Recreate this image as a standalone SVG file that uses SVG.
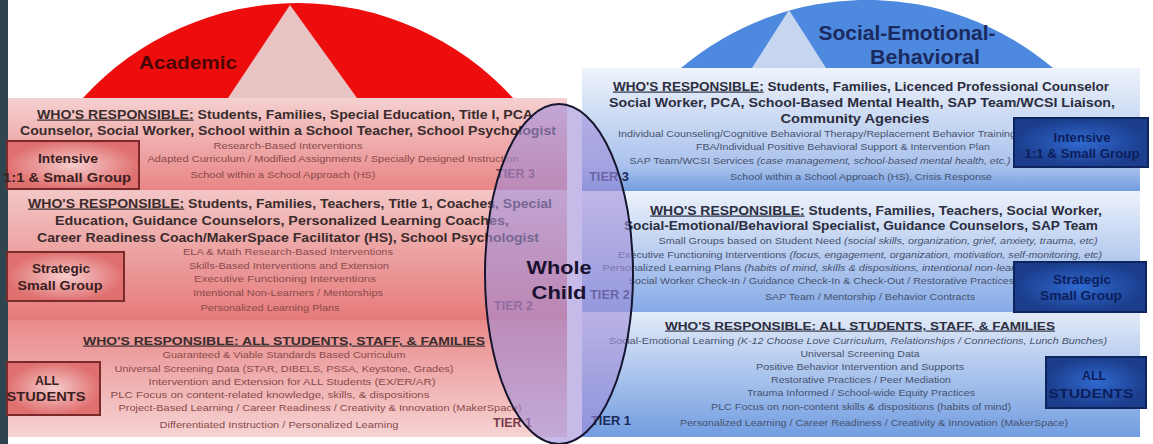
<svg xmlns="http://www.w3.org/2000/svg" width="1153" height="444" viewBox="0 0 1153 444">
<style>
text{font-family:"Liberation Sans",Arial,sans-serif;}
.hl{font-size:12px;font-weight:bold;fill:#3a2c2c;text-anchor:middle;}
.sl{font-size:9.5px;fill:#8a4a4a;text-anchor:middle;}
.hr{font-size:12px;font-weight:bold;fill:#2c2e40;text-anchor:middle;}
.sr{font-size:9.5px;fill:#46526e;text-anchor:middle;}
.cap{font-size:11.5px;}
.u{text-decoration:underline;}
.i{font-style:italic;}
.tl{font-size:12px;font-weight:bold;fill:#7a3c4c;}
.tr{font-size:12px;font-weight:bold;fill:#1a2a5a;}
.bl{font-size:13px;font-weight:bold;fill:#3a2020;text-anchor:middle;}
.br{font-size:12.5px;font-weight:bold;fill:#0c1e5c;text-anchor:middle;}
.boxl{fill:url(#boxL);stroke:#7a2a2a;stroke-width:2;}
.boxr{fill:url(#boxR);stroke:#0d245e;stroke-width:2;}
.big{font-weight:bold;text-anchor:middle;}
</style>
<defs>
<linearGradient id="lt3" x1="0" y1="0" x2="0" y2="1"><stop offset="0" stop-color="#f5d0d0"/><stop offset="1" stop-color="#e98585"/></linearGradient>
<linearGradient id="lt2" x1="0" y1="0" x2="0" y2="1"><stop offset="0" stop-color="#f3c6c6"/><stop offset="1" stop-color="#e67a7a"/></linearGradient>
<linearGradient id="lt1" x1="0" y1="0" x2="0" y2="1"><stop offset="0" stop-color="#e98a8a"/><stop offset="1" stop-color="#f6d3d3"/></linearGradient>
<linearGradient id="rt3" x1="0" y1="0" x2="0" y2="1"><stop offset="0" stop-color="#eef3fb"/><stop offset="0.8" stop-color="#a9c2ec"/><stop offset="1" stop-color="#739de0"/></linearGradient>
<linearGradient id="rt2" x1="0" y1="0" x2="0" y2="1"><stop offset="0" stop-color="#edf2fb"/><stop offset="1" stop-color="#86aae6"/></linearGradient>
<linearGradient id="rt1" x1="0" y1="0" x2="0" y2="1"><stop offset="0" stop-color="#e3ebf8"/><stop offset="1" stop-color="#729de1"/></linearGradient>
<radialGradient id="boxL"><stop offset="0" stop-color="#f6cccc"/><stop offset="1" stop-color="#e07070"/></radialGradient>
<radialGradient id="boxR"><stop offset="0" stop-color="#3069d0"/><stop offset="1" stop-color="#1b3d8c"/></radialGradient>
</defs>
<rect width="1153" height="444" fill="#ffffff"/>
<rect x="0" y="0" width="8" height="444" fill="#2e4550"/>

<g id="academic-dome">
<path d="M83 98 A291 291 0 0 1 513 98 Z" fill="#ee0d0d"/>
<path d="M290 5 L357 98 L228 98 Z" fill="#e9c4c4"/>
<text class="big" x="188" y="69" font-size="19" fill="#4a0505" textLength="98" lengthAdjust="spacingAndGlyphs">Academic</text>
</g>

<g id="seb-dome">
<path d="M681 68 A288 288 0 0 1 1053 68 Z" fill="#4d89de"/>
<path d="M789 10 L826 68 L752 68 Z" fill="#c7d6f0"/>
<text class="big" x="907" y="40" font-size="20" fill="#1b2a5e" textLength="177" lengthAdjust="spacingAndGlyphs">Social-Emotional-</text>
<text class="big" x="925" y="64" font-size="20" fill="#1b2a5e" textLength="110" lengthAdjust="spacingAndGlyphs">Behavioral</text>
</g>

<g id="academic-tier3">
<rect x="8" y="98" width="559" height="92" fill="url(#lt3)"/>
<text class="hl" x="285" y="118.5" textLength="496" lengthAdjust="spacingAndGlyphs"><tspan class="u">WHO'S RESPONSIBLE:</tspan> Students, Families, Special Education, Title I, PCA</text>
<text class="hl" x="288" y="135" textLength="536" lengthAdjust="spacingAndGlyphs">Counselor, Social Worker, School within a School Teacher, School Psychologist</text>
<text class="sl" x="288" y="148.5" textLength="149" lengthAdjust="spacingAndGlyphs">Research-Based Interventions</text>
<text class="sl" x="333" y="162" textLength="371" lengthAdjust="spacingAndGlyphs">Adapted Curriculum / Modified Assignments / Specially Designed Instruction</text>
<text class="sl" x="283" y="177.5" textLength="185" lengthAdjust="spacingAndGlyphs">School within a School Approach (HS)</text>
<text class="tl" x="496" y="177.5" textLength="39" lengthAdjust="spacingAndGlyphs">TIER 3</text>
</g>

<g id="academic-tier2">
<rect x="8" y="190" width="559" height="130" fill="url(#lt2)"/>
<text class="hl" x="290" y="207.5" textLength="524" lengthAdjust="spacingAndGlyphs"><tspan class="u">WHO'S RESPONSIBLE:</tspan> Students, Families, Teachers, Title 1, Coaches, Special</text>
<text class="hl" x="282" y="224.5" textLength="454" lengthAdjust="spacingAndGlyphs">Education, Guidance Counselors, Personalized Learning Coaches,</text>
<text class="hl" x="288" y="241.5" textLength="502" lengthAdjust="spacingAndGlyphs">Career Readiness Coach/MakerSpace Facilitator (HS), School Psychologist</text>
<text class="sl" x="288" y="255" textLength="210" lengthAdjust="spacingAndGlyphs">ELA &amp; Math Research-Based Interventions</text>
<text class="sl" x="289" y="269" textLength="200" lengthAdjust="spacingAndGlyphs">Skills-Based Interventions and Extension</text>
<text class="sl" x="285" y="282" textLength="182" lengthAdjust="spacingAndGlyphs">Executive Functioning Interventions</text>
<text class="sl" x="288" y="296" textLength="190" lengthAdjust="spacingAndGlyphs">Intentional Non-Learners / Mentorships</text>
<text class="sl" x="270" y="311" textLength="139" lengthAdjust="spacingAndGlyphs">Personalized Learning Plans</text>
<text class="tl" x="494" y="310" textLength="39" lengthAdjust="spacingAndGlyphs">TIER 2</text>
</g>

<g id="academic-tier1">
<rect x="8" y="320" width="559" height="117" fill="url(#lt1)"/>
<text class="hl cap u" x="284" y="344.5" textLength="402" lengthAdjust="spacingAndGlyphs">WHO'S RESPONSIBLE: ALL STUDENTS, STAFF, &amp; FAMILIES</text>
<text class="sl" x="284" y="357.5" textLength="243" lengthAdjust="spacingAndGlyphs">Guaranteed &amp; Viable Standards Based Curriculum</text>
<text class="sl" x="284" y="371.5" textLength="339" lengthAdjust="spacingAndGlyphs">Universal Screening Data (STAR, DIBELS, PSSA, Keystone, Grades)</text>
<text class="sl" x="292" y="384.5" textLength="287" lengthAdjust="spacingAndGlyphs">Intervention and Extension for ALL Students (EX/ER/AR)</text>
<text class="sl" x="270" y="398" textLength="319" lengthAdjust="spacingAndGlyphs">PLC Focus on content-related knowledge, skills, &amp; dispositions</text>
<text class="sl" x="320" y="411" textLength="403" lengthAdjust="spacingAndGlyphs">Project-Based Learning / Career Readiness / Creativity &amp; Innovation (MakerSpace)</text>
<text class="sl" x="279" y="427.5" textLength="239" lengthAdjust="spacingAndGlyphs">Differentiated Instruction / Personalized Learning</text>
<text class="tl" x="493" y="427" textLength="39" lengthAdjust="spacingAndGlyphs">TIER 1</text>
</g>

<g id="seb-tier3">
<rect x="582" y="68" width="558" height="123" fill="url(#rt3)"/>
<text class="hr" x="861" y="90.5" textLength="496" lengthAdjust="spacingAndGlyphs"><tspan class="u">WHO'S RESPONSIBLE:</tspan> Students, Families, Licenced Professional Counselor</text>
<text class="hr" x="862" y="106.5" textLength="506" lengthAdjust="spacingAndGlyphs">Social Worker, PCA, School-Based Mental Health, SAP Team/WCSI Liaison,</text>
<text class="hr" x="855" y="122.5" textLength="149" lengthAdjust="spacingAndGlyphs">Community Agencies</text>
<text class="sr" x="817" y="136.5" textLength="398" lengthAdjust="spacingAndGlyphs">Individual Counseling/Cognitive Behavioral Therapy/Replacement Behavior Training</text>
<text class="sr" x="843" y="149.5" textLength="294" lengthAdjust="spacingAndGlyphs">FBA/Individual Positive Behavioral Support &amp; Intervention Plan</text>
<text class="sr" x="820" y="163.5" textLength="381" lengthAdjust="spacingAndGlyphs">SAP Team/WCSI Services <tspan class="i">(case management, school-based mental health, etc.)</tspan></text>
<text class="sr" x="861" y="179.5" textLength="262" lengthAdjust="spacingAndGlyphs">School within a School Approach (HS), Crisis Response</text>
<text class="tr" x="589" y="181" textLength="40" lengthAdjust="spacingAndGlyphs">TIER 3</text>
</g>

<g id="seb-tier2">
<rect x="582" y="191" width="558" height="121" fill="url(#rt2)"/>
<text class="hr" x="876" y="214.5" textLength="452" lengthAdjust="spacingAndGlyphs"><tspan class="u">WHO'S RESPONSIBLE:</tspan> Students, Families, Teachers, Social Worker,</text>
<text class="hr" x="861" y="230" textLength="474" lengthAdjust="spacingAndGlyphs">Social-Emotional/Behavioral Specialist, Guidance Counselors, SAP Team</text>
<text class="sr" x="878" y="244" textLength="439" lengthAdjust="spacingAndGlyphs">Small Groups based on Student Need <tspan class="i">(social skills, organization, grief, anxiety, trauma, etc)</tspan></text>
<text class="sr" x="860" y="257.5" textLength="484" lengthAdjust="spacingAndGlyphs">Executive Functioning Interventions <tspan class="i">(focus, engagement, organization, motivation, self-monitoring, etc)</tspan></text>
<text class="sr" x="821" y="271" textLength="437" lengthAdjust="spacingAndGlyphs">Personalized Learning Plans <tspan class="i">(habits of mind, skills &amp; dispositions, intentional non-learners)</tspan></text>
<text class="sr" x="821" y="284" textLength="386" lengthAdjust="spacingAndGlyphs">Social Worker Check-In / Guidance Check-In &amp; Check-Out / Restorative Practices</text>
<text class="sr" x="870" y="299.5" textLength="210" lengthAdjust="spacingAndGlyphs">SAP Team / Mentorship / Behavior Contracts</text>
<text class="tr" x="590" y="299" textLength="40" lengthAdjust="spacingAndGlyphs">TIER 2</text>
</g>

<g id="seb-tier1">
<rect x="582" y="312" width="558" height="125" fill="url(#rt1)"/>
<text class="hr cap u" x="860" y="329.5" textLength="390" lengthAdjust="spacingAndGlyphs">WHO'S RESPONSIBLE: ALL STUDENTS, STAFF, &amp; FAMILIES</text>
<text class="sr" x="858" y="344" textLength="498" lengthAdjust="spacingAndGlyphs">Social-Emotional Learning <tspan class="i">(K-12 Choose Love Curriculum, Relationships / Connections, Lunch Bunches)</tspan></text>
<text class="sr" x="860" y="356.5" textLength="119" lengthAdjust="spacingAndGlyphs">Universal Screening Data</text>
<text class="sr" x="860" y="370" textLength="208" lengthAdjust="spacingAndGlyphs">Positive Behavior Intervention and Supports</text>
<text class="sr" x="861" y="382.5" textLength="180" lengthAdjust="spacingAndGlyphs">Restorative Practices / Peer Mediation</text>
<text class="sr" x="861" y="396" textLength="228" lengthAdjust="spacingAndGlyphs">Trauma Informed / School-wide Equity Practices</text>
<text class="sr" x="861" y="410" textLength="300" lengthAdjust="spacingAndGlyphs">PLC Focus on non-content skills &amp; dispositions (habits of mind)</text>
<text class="sr" x="874" y="425.5" textLength="388" lengthAdjust="spacingAndGlyphs">Personalized Learning / Career Readiness / Creativity &amp; Innovation (MakerSpace)</text>
<text class="tr" x="591" y="425" textLength="40" lengthAdjust="spacingAndGlyphs">TIER 1</text>
</g>

<g id="box-intensive-academic">
<rect class="boxl" x="7" y="141" width="132" height="48"/>
<text class="bl" x="68" y="162.5" textLength="60" lengthAdjust="spacingAndGlyphs">Intensive</text>
<text class="bl" x="67" y="181.5" textLength="128" lengthAdjust="spacingAndGlyphs">1:1 &amp; Small Group</text>
</g>
<g id="box-strategic-academic">
<rect class="boxl" x="7" y="252" width="117" height="49"/>
<text class="bl" x="61" y="272.5" textLength="58" lengthAdjust="spacingAndGlyphs">Strategic</text>
<text class="bl" x="60" y="289.5" textLength="85" lengthAdjust="spacingAndGlyphs">Small Group</text>
</g>
<g id="box-all-academic">
<rect class="boxl" x="7" y="362" width="93" height="53"/>
<text class="bl" x="47" y="384.5" textLength="24" lengthAdjust="spacingAndGlyphs">ALL</text>
<text class="bl" x="46" y="400.5" textLength="79" lengthAdjust="spacingAndGlyphs">STUDENTS</text>
</g>

<g id="box-intensive-seb">
<rect class="boxr" x="1014" y="118" width="134" height="49"/>
<text class="br" x="1082" y="141.5" textLength="57" lengthAdjust="spacingAndGlyphs">Intensive</text>
<text class="br" x="1082" y="157.5" textLength="115" lengthAdjust="spacingAndGlyphs">1:1 &amp; Small Group</text>
</g>
<g id="box-strategic-seb">
<rect class="boxr" x="1014" y="262" width="132" height="50"/>
<text class="br" x="1082" y="283.5" textLength="58" lengthAdjust="spacingAndGlyphs">Strategic</text>
<text class="br" x="1081" y="299.5" textLength="82" lengthAdjust="spacingAndGlyphs">Small Group</text>
</g>
<g id="box-all-seb">
<rect class="boxr" x="1046" y="357" width="100" height="51"/>
<text class="br" x="1094" y="379.5" textLength="24" lengthAdjust="spacingAndGlyphs">ALL</text>
<text class="br" x="1091" y="397.5" textLength="85" lengthAdjust="spacingAndGlyphs">STUDENTS</text>
</g>

<g id="whole-child">
<ellipse cx="559" cy="274" rx="74" ry="170" fill="#a08ed8" fill-opacity="0.6" stroke="#15152e" stroke-width="2"/>
<text class="big" x="559" y="274" font-size="19" fill="#1a1030" textLength="65" lengthAdjust="spacingAndGlyphs">Whole</text>
<text class="big" x="559" y="299" font-size="19" fill="#1a1030" textLength="55" lengthAdjust="spacingAndGlyphs">Child</text>
</g>
<g id="connectors"/>
</svg>
